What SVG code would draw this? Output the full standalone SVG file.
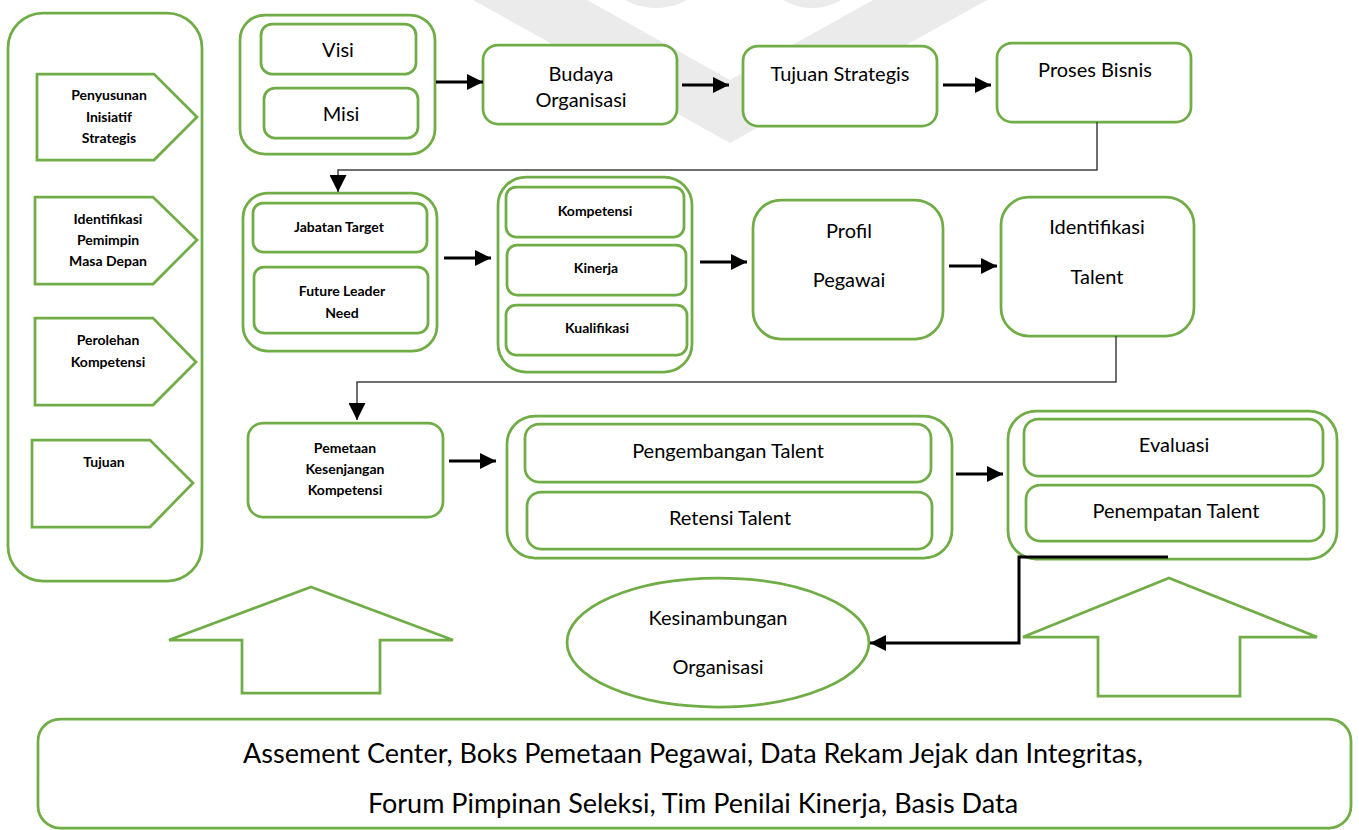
<svg xmlns="http://www.w3.org/2000/svg" width="1359" height="830" viewBox="0 0 1359 830">
  <style>
    .box { fill: #ffffff; stroke: #70ad47; stroke-width: 2.75; }
    .t { font-family: Lato, "Open Sans", "Liberation Sans", sans-serif; font-size: 20px; fill: #000000; text-anchor: middle; }
    .tb { font-family: Lato, "Open Sans", "Liberation Sans", sans-serif; font-size: 14px; font-weight: 700; fill: #000000; text-anchor: middle; }
    .tl { font-family: Lato, "Open Sans", "Liberation Sans", sans-serif; font-size: 27px; fill: #000000; text-anchor: middle; }
    .conn { fill: none; stroke: #000000; stroke-width: 3; }
    .thin { fill: none; stroke: #404040; stroke-width: 1.5; }
    .mark { fill: #ebebeb; }
  </style>
  <defs>
    <marker id="ah" markerUnits="userSpaceOnUse" markerWidth="16" markerHeight="16" refX="16" refY="8" orient="auto">
      <path d="M0,0 L16,8 L0,16 z" fill="#000000"/>
    </marker>
    <marker id="ahThin" markerUnits="userSpaceOnUse" markerWidth="17" markerHeight="17" refX="17" refY="8.5" orient="auto">
      <path d="M0,0 L17,8.5 L0,17 z" fill="#000000"/>
    </marker>
  </defs>

  <rect width="1359" height="830" fill="#ffffff"/>

  <!-- faint background emblem -->
  <g id="emblem">
    <circle class="mark" cx="656" cy="-55" r="63"/>
    <circle class="mark" cx="812" cy="-48" r="56"/>
    <polygon class="mark" points="473,0 730,143 987,0 873,0 730,80 587,0"/>
  </g>

  <!-- left column of stages -->
  <g id="stages-panel">
    <rect class="box" x="8" y="13" width="194" height="568" rx="35"/>
  </g>
  <g id="stage-penyusunan">
    <polygon class="box" points="37,74 154,74 197,117 154,160 37,160"/>
    <text class="tb" x="109" y="100">Penyusunan</text>
    <text class="tb" x="109" y="122">Inisiatif</text>
    <text class="tb" x="109" y="143">Strategis</text>
  </g>
  <g id="stage-identifikasi">
    <polygon class="box" points="35,197 153,197 197,240 153,284 35,284"/>
    <text class="tb" x="108" y="224">Identifikasi</text>
    <text class="tb" x="108" y="245">Pemimpin</text>
    <text class="tb" x="108" y="266">Masa Depan</text>
  </g>
  <g id="stage-perolehan">
    <polygon class="box" points="35,318 153,318 196,362 153,405 35,405"/>
    <text class="tb" x="108" y="345">Perolehan</text>
    <text class="tb" x="108" y="367">Kompetensi</text>
  </g>
  <g id="stage-tujuan">
    <polygon class="box" points="32,440 150,440 193,483 150,527 32,527"/>
    <text class="tb" x="104" y="467">Tujuan</text>
  </g>

  <!-- row 1 -->
  <g id="visi-misi">
    <rect class="box" x="240" y="15" width="195" height="139" rx="25"/>
    <rect class="box" x="261" y="24" width="155" height="50" rx="11"/>
    <text class="t" x="338" y="57">Visi</text>
    <rect class="box" x="264" y="88" width="154" height="50" rx="11"/>
    <text class="t" x="341" y="121">Misi</text>
  </g>
  <g id="budaya-organisasi">
    <rect class="box" x="483" y="45" width="194" height="79" rx="15"/>
    <text class="t" x="581" y="81">Budaya</text>
    <text class="t" x="581" y="107">Organisasi</text>
  </g>
  <g id="tujuan-strategis">
    <rect class="box" x="743" y="46" width="194" height="80" rx="15"/>
    <text class="t" x="840" y="81">Tujuan Strategis</text>
  </g>
  <g id="proses-bisnis">
    <rect class="box" x="997" y="43" width="194" height="79" rx="15"/>
    <text class="t" x="1095" y="77">Proses Bisnis</text>
  </g>

  <!-- row 2 -->
  <g id="jabatan-group">
    <rect class="box" x="243" y="193" width="194" height="158" rx="25"/>
    <rect class="box" x="253" y="203" width="174" height="49" rx="10"/>
    <text class="tb" x="339" y="232">Jabatan Target</text>
    <rect class="box" x="254" y="267" width="174" height="66" rx="10"/>
    <text class="tb" x="342" y="296">Future Leader</text>
    <text class="tb" x="342" y="318">Need</text>
  </g>
  <g id="kompetensi-group">
    <rect class="box" x="498" y="177" width="194" height="195" rx="28"/>
    <rect class="box" x="506" y="187" width="178" height="50" rx="10"/>
    <text class="tb" x="595" y="216">Kompetensi</text>
    <rect class="box" x="507" y="245" width="179" height="50" rx="10"/>
    <text class="tb" x="596" y="273">Kinerja</text>
    <rect class="box" x="506" y="305" width="181" height="50" rx="10"/>
    <text class="tb" x="597" y="333">Kualifikasi</text>
  </g>
  <g id="profil-pegawai">
    <rect class="box" x="753" y="200" width="190" height="139" rx="28"/>
    <text class="t" x="849" y="238">Profil</text>
    <text class="t" x="849" y="287">Pegawai</text>
  </g>
  <g id="identifikasi-talent">
    <rect class="box" x="1001" y="197" width="193" height="139" rx="28"/>
    <text class="t" x="1097" y="234">Identifikasi</text>
    <text class="t" x="1097" y="284">Talent</text>
  </g>

  <!-- row 3 -->
  <g id="pemetaan">
    <rect class="box" x="248" y="423" width="195" height="94" rx="15"/>
    <text class="tb" x="345" y="453">Pemetaan</text>
    <text class="tb" x="345" y="474">Kesenjangan</text>
    <text class="tb" x="345" y="495">Kompetensi</text>
  </g>
  <g id="pengembangan-group">
    <rect class="box" x="507" y="416" width="445" height="142" rx="28"/>
    <rect class="box" x="525" y="424" width="406" height="58" rx="14"/>
    <text class="t" x="728" y="458">Pengembangan Talent</text>
    <rect class="box" x="527" y="492" width="405" height="57" rx="14"/>
    <text class="t" x="730" y="525">Retensi Talent</text>
  </g>
  <g id="evaluasi-group">
    <rect class="box" x="1008" y="411" width="329" height="148" rx="28"/>
    <rect class="box" x="1024" y="419" width="299" height="57" rx="14"/>
    <text class="t" x="1174" y="452">Evaluasi</text>
    <rect class="box" x="1026" y="485" width="298" height="56" rx="14"/>
    <text class="t" x="1176" y="518">Penempatan Talent</text>
  </g>

  <!-- outcome and supporting inputs -->
  <g id="kesinambungan">
    <ellipse class="box" cx="718" cy="642.5" rx="151" ry="64.5"/>
    <text class="t" x="718" y="625">Kesinambungan</text>
    <text class="t" x="718" y="674">Organisasi</text>
  </g>
  <g id="input-arrow-left">
    <polygon class="box" points="311,587 453,640 380,640 380,693 242,693 242,640 169,640"/>
  </g>
  <g id="input-arrow-right">
    <polygon class="box" points="1169,578 1317,637 1240,637 1240,696 1098,696 1098,637 1023,637"/>
  </g>
  <g id="pendukung">
    <rect class="box" x="38" y="719" width="1313" height="109" rx="22"/>
    <text class="tl" x="693" y="763">Assement Center, Boks Pemetaan Pegawai, Data Rekam Jejak dan Integritas,</text>
    <text class="tl" x="693" y="813">Forum Pimpinan Seleksi, Tim Penilai Kinerja, Basis Data</text>
  </g>

  <!-- connectors -->
  <g id="connectors">
    <path class="conn" d="M436,82 H483" marker-end="url(#ah)"/>
    <path class="conn" d="M682,85 H729" marker-end="url(#ah)"/>
    <path class="conn" d="M943,85 H991" marker-end="url(#ah)"/>
    <path class="thin" d="M1097,122 V170 H338 V192" marker-end="url(#ahThin)"/>
    <path class="conn" d="M444,258 H491" marker-end="url(#ah)"/>
    <path class="conn" d="M700,262 H747" marker-end="url(#ah)"/>
    <path class="conn" d="M949,266 H997" marker-end="url(#ah)"/>
    <path class="thin" d="M1116,336 V382 H357 V420" marker-end="url(#ahThin)"/>
    <path class="conn" d="M449,461 H496" marker-end="url(#ah)"/>
    <path class="conn" d="M956,474 H1003" marker-end="url(#ah)"/>
    <path class="conn" d="M1168,557 H1019 V643 H870" marker-end="url(#ah)"/>
  </g>
</svg>
